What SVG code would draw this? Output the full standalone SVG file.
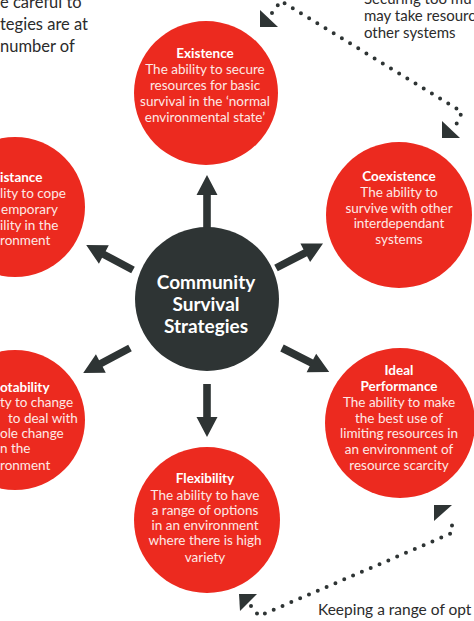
<svg xmlns="http://www.w3.org/2000/svg" width="474" height="621" viewBox="0 0 474 621">
<defs>
<style>
.red{fill:#ec2a1f}
.dark{fill:#2e3434}
.t{font-family:Lato,"Open Sans","Liberation Sans",sans-serif;font-size:13.5px;fill:#fde9e6;text-anchor:middle}
.b{font-weight:bold;fill:#ffffff}
.l{text-anchor:start}
.c{font-family:Lato,"Open Sans","Liberation Sans",sans-serif;font-size:19px;font-weight:bold;fill:#ffffff;text-anchor:middle}
.n{font-family:Lato,"Open Sans","Liberation Sans",sans-serif;fill:#2b2b2b}
.dots{fill:none;stroke:#2e3434;stroke-width:4;stroke-linecap:round;stroke-linejoin:round;stroke-dasharray:0 9.6}
.head{fill:#2e3434}
</style>
<path id="arr" d="M0,-3.8 L33,-3.8 L33,-10.5 L53,0 L33,10.5 L33,3.8 L0,3.8 Z"/>
</defs>
<rect width="474" height="621" fill="#ffffff"/>

<g id="notes">
<text class="n" x="0" y="8" font-size="16.5">e careful to</text>
<text class="n" x="0" y="30" font-size="16.5">tegies are at</text>
<text class="n" x="0" y="52" font-size="16.5">number of</text>
<text class="n" x="364" y="4" font-size="15">Securing too mu</text>
<text class="n" x="364" y="21" font-size="15">may take resourc</text>
<text class="n" x="364" y="38" font-size="15">other systems</text>
<text class="n" x="318" y="615" font-size="15.5">Keeping a range of opt</text>
</g>

<g id="connectors">
<use href="#arr" class="head" transform="translate(207,228) rotate(-90)"/>
<use href="#arr" class="head" transform="translate(207,384) rotate(90)"/>
<use href="#arr" class="head" transform="translate(133,270) rotate(208)"/>
<use href="#arr" class="head" transform="translate(276,268) rotate(-27.5)"/>
<use href="#arr" class="head" transform="translate(130,348) rotate(152)"/>
<use href="#arr" class="head" transform="translate(282,348) rotate(27)"/>
<path class="dots" d="M272,13 L281,1 L462,112 L456,125"/>
<polygon class="head" points="260,10 260,27 278,27"/>
<polygon class="head" points="442,121 442,138 460,138"/>
<path class="dots" d="M251,606 L259,616 L452,533 L452,524 L447,518"/>
<polygon class="head" points="239,594 257,594 240,611"/>
<polygon class="head" points="434,505 452,505 434,521"/>
</g>

<g id="center">
<circle class="dark" cx="207" cy="299" r="72"/>
<text class="c" x="206" y="289">Community</text>
<text class="c" x="206" y="311">Survival</text>
<text class="c" x="206" y="333">Strategies</text>
</g>

<g id="existence">
<circle class="red" cx="206" cy="93" r="72"/>
<text class="t b" x="205" y="58">Existence</text>
<text class="t" x="205" y="74">The ability to secure</text>
<text class="t" x="205" y="90">resources for basic</text>
<text class="t" x="205" y="106">survival in the ‘normal</text>
<text class="t" x="205" y="122">environmental state’</text>
</g>

<g id="resistance">
<circle class="red" cx="15" cy="207" r="70"/>
<text class="t b l" x="0" y="182">istance</text>
<text class="t l" x="0" y="198">lity to cope</text>
<text class="t l" x="1" y="214">emporary</text>
<text class="t l" x="0" y="230">ility in the</text>
<text class="t l" x="0" y="245">ronment</text>
</g>

<g id="coexistence">
<circle class="red" cx="399" cy="215" r="73"/>
<text class="t b" x="399" y="181">Coexistence</text>
<text class="t" x="399" y="197">The ability to</text>
<text class="t" x="399" y="213">survive with other</text>
<text class="t" x="399" y="228">interdependant</text>
<text class="t" x="399" y="244">systems</text>
</g>

<g id="adaptability">
<circle class="red" cx="15" cy="420" r="70"/>
<text class="t b l" x="0" y="392">otability</text>
<text class="t l" x="0" y="407">ty to change</text>
<text class="t l" x="8" y="423">to deal with</text>
<text class="t l" x="0" y="438">ole change</text>
<text class="t l" x="0" y="453">n the</text>
<text class="t l" x="0" y="470">ronment</text>
</g>

<g id="ideal-performance">
<circle class="red" cx="400" cy="423" r="75"/>
<text class="t b" x="399" y="375">Ideal</text>
<text class="t b" x="399" y="391">Performance</text>
<text class="t" x="399" y="407">The ability to make</text>
<text class="t" x="399" y="423">the best use of</text>
<text class="t" x="399" y="438">limiting resources in</text>
<text class="t" x="399" y="454">an environment of</text>
<text class="t" x="399" y="470">resource scarcity</text>
</g>

<g id="flexibility">
<circle class="red" cx="207" cy="520" r="73"/>
<text class="t b" x="205" y="483">Flexibility</text>
<text class="t" x="205" y="500">The ability to have</text>
<text class="t" x="205" y="515">a range of options</text>
<text class="t" x="205" y="530">in an environment</text>
<text class="t" x="205" y="545">where there is high</text>
<text class="t" x="205" y="562">variety</text>
</g>
</svg>
